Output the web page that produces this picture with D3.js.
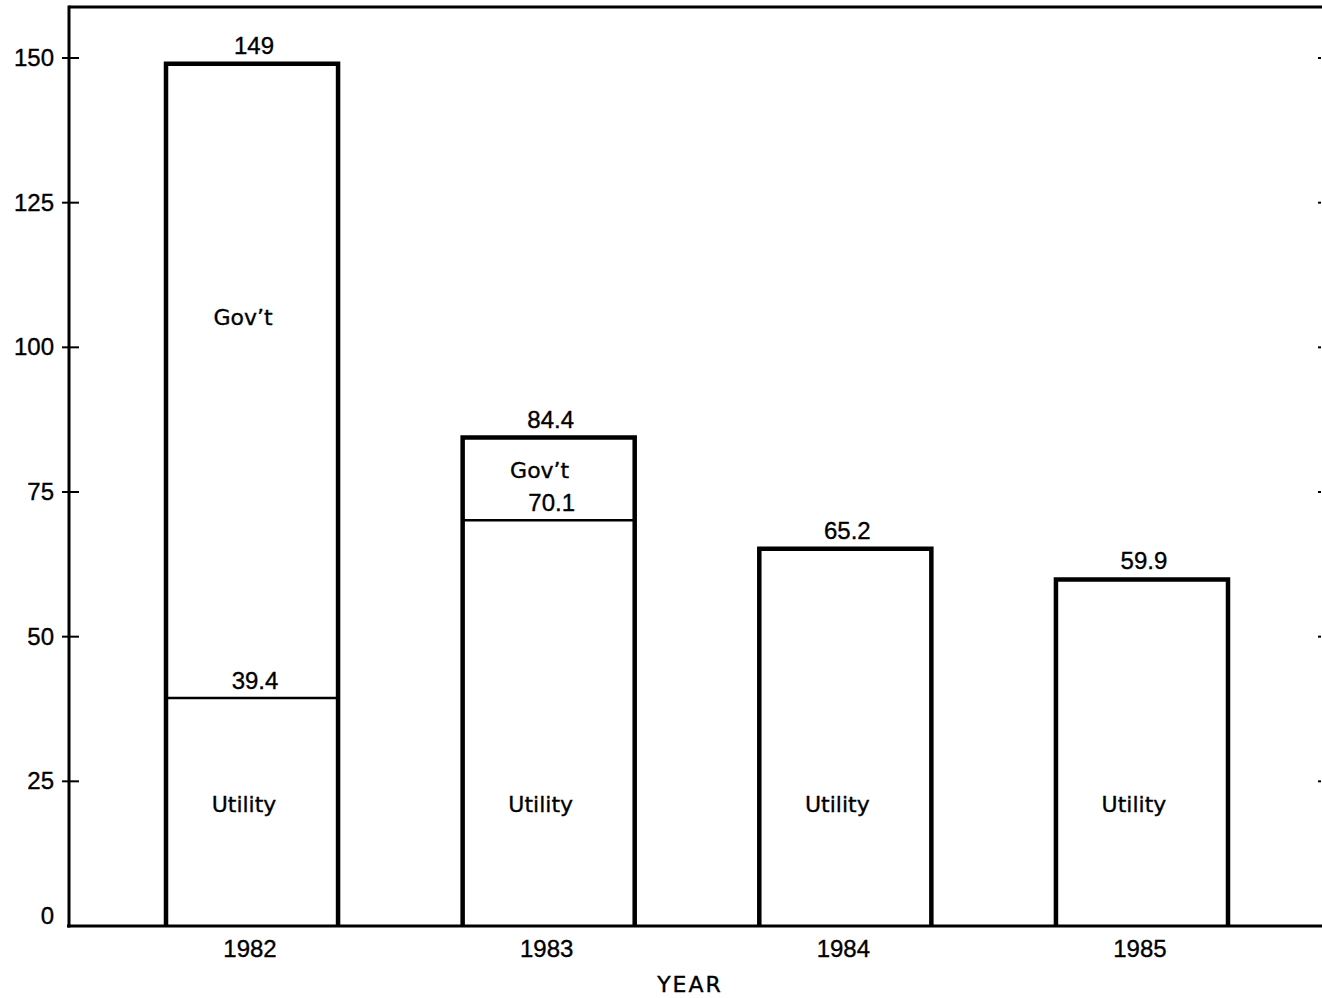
<!DOCTYPE html>
<html>
<head>
<meta charset="utf-8">
<script src="https://cdn.jsdelivr.net/npm/d3@7"></script>
<style>
body { margin: 0; background: #fff; }
text { font-family: "Liberation Sans", Arial, sans-serif; fill: #000; stroke: #000; stroke-width: 0.35; }
text.word { font-family: "DejaVu Sans", sans-serif; }
</style>
</head>
<body>
<svg id="svg1" width="1322" height="998"></svg>
<script>
var years = ['1982', '1983', '1984', '1985'];
var utility = [39.4, 70.1, 65.2, 59.9];
var govt = [109.6, 14.3, 0, 0];
var totals = ['149', '84.4', '65.2', '59.9'];
var y_ticks = [0, 25, 50, 75, 100, 125, 150];

var svg1 = d3.select('#svg1');
var left = 69, top_y = 7, base = 926, fs = 24;

var x_scale = d3.scaleBand().domain(years).range([166, 1228]).paddingInner(0.42).paddingOuter(0);
var y_scale = d3.scaleLinear().domain([0, 150]).range([base, 58]);

var data = years.map((yr, i) => ({year: yr, u: utility[i], g: govt[i], total: utility[i] + govt[i], label: totals[i]}));
var mid = d => x_scale(d.year) + x_scale.bandwidth() / 2;

// bars
var bars = svg1.selectAll('g.bar').data(data).enter().append('g').attr('class', 'bar');

bars.append('path')
	.attr('d', d => {
		var x0 = x_scale(d.year), x1 = x0 + x_scale.bandwidth(), yt = y_scale(d.total);
		return 'M' + x0 + ',' + base + 'V' + yt + 'H' + x1 + 'V' + base;
	})
	.attr('fill', 'none').attr('stroke', '#000').attr('stroke-width', 4.5);

// divider between utility and gov't
bars.filter(d => d.g > 0).append('line')
	.attr('x1', d => x_scale(d.year)).attr('x2', d => x_scale(d.year) + x_scale.bandwidth())
	.attr('y1', d => y_scale(d.u)).attr('y2', d => y_scale(d.u))
	.attr('stroke', '#000').attr('stroke-width', 2.5);

bars.filter(d => d.g > 0).append('text')
	.attr('x', d => mid(d) + 3)
	.attr('y', d => y_scale(d.u) - 9)
	.attr('text-anchor', 'middle').attr('font-size', fs)
	.text(d => d.u);

// total labels
bars.append('text')
	.attr('x', d => mid(d) + 2)
	.attr('y', d => y_scale(d.total) - 10)
	.attr('text-anchor', 'middle').attr('font-size', fs)
	.text(d => d.label);

// segment names
bars.append('text').attr('class', 'word')
	.attr('x', d => mid(d) - 8)
	.attr('y', 812)
	.attr('text-anchor', 'middle').attr('font-size', 22)
	.text('Utility');

bars.filter(d => d.g > 0).append('text').attr('class', 'word')
	.attr('x', d => mid(d) - 9)
	.attr('y', d => d.g > 50 ? 325 : (y_scale(d.total) + y_scale(d.u)) / 2 - 1)
	.attr('text-anchor', 'middle').attr('font-size', 22)
	.text("Gov\u2019t");

// frame
svg1.append('line').attr('x1', left).attr('x2', 1322).attr('y1', top_y).attr('y2', top_y)
	.attr('stroke', '#000').attr('stroke-width', 3);
svg1.append('line').attr('x1', left).attr('x2', left).attr('y1', top_y - 1.5).attr('y2', base + 1.5)
	.attr('stroke', '#000').attr('stroke-width', 3);
svg1.append('line').attr('x1', left - 2).attr('x2', 1322).attr('y1', base).attr('y2', base)
	.attr('stroke', '#000').attr('stroke-width', 3);

// left ticks
var yt = svg1.append('g');
yt.selectAll('line').data(y_ticks.filter(v => v > 0)).enter().append('line')
	.attr('x1', left - 7).attr('x2', left + 10)
	.attr('y1', d => y_scale(d)).attr('y2', d => y_scale(d))
	.attr('stroke', '#000').attr('stroke-width', 2);
yt.selectAll('text').data(y_ticks).enter().append('text')
	.attr('x', 54).attr('y', d => d == 0 ? y_scale(d) - 2 : y_scale(d) + 8)
	.attr('text-anchor', 'end').attr('font-size', fs)
	.text(d => d);

// right side tick dots
svg1.append('g').selectAll('rect').data(y_ticks.filter(v => v > 0)).enter().append('rect')
	.attr('x', 1318).attr('y', d => y_scale(d) - 1).attr('width', 3).attr('height', 2).attr('fill', '#000');

// year labels
svg1.append('g').selectAll('text').data(years).enter().append('text')
	.attr('x', d => x_scale(d) + x_scale.bandwidth() / 2 - 2)
	.attr('y', 957)
	.attr('text-anchor', 'middle').attr('font-size', fs)
	.text(d => d);

svg1.append('text').attr('class', 'word').attr('x', 690).attr('y', 992).attr('text-anchor', 'middle')
	.attr('font-size', 22).attr('letter-spacing', 2).text('YEAR');
</script>
</body>
</html>
